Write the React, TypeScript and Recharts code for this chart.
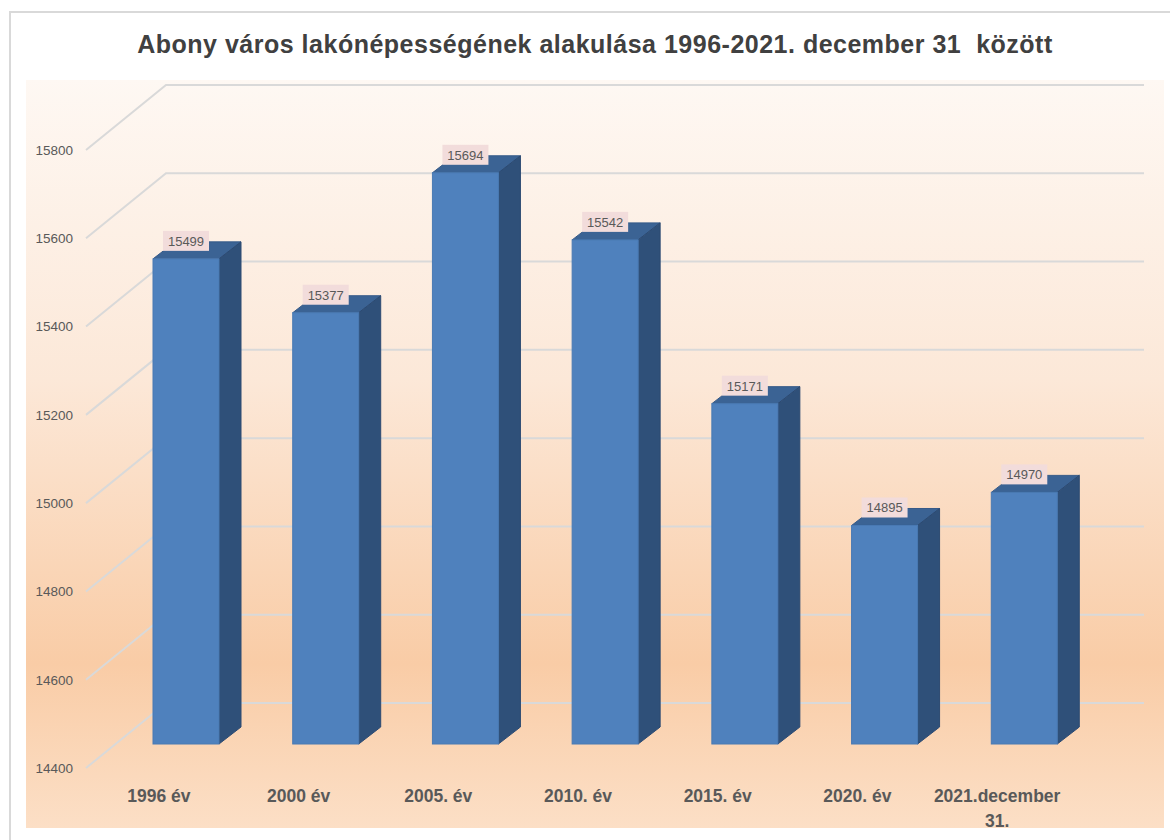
import { BarChart, Bar, XAxis, YAxis, CartesianGrid, LabelList } from 'recharts';

const years = ['1996 év', '2000 év', '2005. év', '2010. év', '2015. év', '2020. év', '2021.december 31.'];
const population = [15499, 15377, 15694, 15542, 15171, 14895, 14970];
const yTicks = [14400, 14600, 14800, 15000, 15200, 15400, 15600, 15800];

const data = years.map((year, i) => ({ year, population: population[i] }));

// 3D offsets: bar front plane, bar depth, back wall
const SHIFT_X = 30;
const SHIFT_Y = -24;
const DEPTH_X = 22;
const DEPTH_Y = -17;
const WALL_X = 80;
const WALL_Y = -65;

const GRID = '#d9d9d9';
const TEXT = '#595959';

function Box3D(props: any) {
  const { x, y, width, height } = props;
  const l = x + SHIFT_X;
  const r = l + width;
  const t = y + SHIFT_Y;
  const b = t + height;
  return (
    <g>
      <polygon
        points={`${l},${t} ${r},${t} ${r + DEPTH_X},${t + DEPTH_Y} ${l + DEPTH_X},${t + DEPTH_Y}`}
        fill="#3b6394"
        stroke="#365a88"
        strokeWidth={1}
      />
      <polygon
        points={`${r},${t} ${r + DEPTH_X},${t + DEPTH_Y} ${r + DEPTH_X},${b + DEPTH_Y} ${r},${b}`}
        fill="#2f5079"
        stroke="#2c4a72"
        strokeWidth={1}
      />
      <rect x={l} y={t} width={width} height={height} fill="#4f81bd" stroke="#4a7ab3" strokeWidth={1} />
    </g>
  );
}

function ValueBox(props: any) {
  const { x, y, width, value } = props;
  const cx = x + SHIFT_X + width / 2;
  const top = y + SHIFT_Y;
  return (
    <g>
      <rect x={cx - 23} y={top - 28} width={46} height={20} fill="#f2dcdb" />
      <text
        x={cx}
        y={top - 13}
        textAnchor="middle"
        fontSize={13}
        fill={TEXT}
        fontFamily="'Liberation Sans', Arial, sans-serif"
      >
        {value}
      </text>
    </g>
  );
}

function GridLine(props: any) {
  const { x1, x2, y1 } = props;
  return (
    <path
      d={`M${x1},${y1} L${x1 + WALL_X},${y1 + WALL_Y} L${x2 + WALL_X},${y1 + WALL_Y}`}
      fill="none"
      stroke={GRID}
      strokeWidth={2}
    />
  );
}

function YearTick(props: any) {
  const { x, y, payload } = props;
  const label: string = payload.value;
  const cut = label.length > 12 ? label.lastIndexOf(' ') : -1;
  const lines = cut > 0 ? [label.slice(0, cut), label.slice(cut + 1)] : [label];
  return (
    <text
      x={x + 3}
      y={y + 26}
      textAnchor="middle"
      fontSize={17.5}
      fontWeight="bold"
      fill={TEXT}
      fontFamily="'Liberation Sans', Arial, sans-serif"
    >
      {lines.map((ln, i) => (
        <tspan key={i} x={x + 3} dy={i === 0 ? 0 : 25}>
          {ln}
        </tspan>
      ))}
    </text>
  );
}

export default function App() {
  return (
    <div style={{ position: 'absolute', left: 0, top: 0, width: 1170, height: 840, background: '#fff', overflow: 'hidden' }}>
      <div
        style={{
          position: 'absolute',
          left: 9,
          top: 11,
          width: 1161,
          height: 829,
          borderTop: '2px solid #d9d9d9',
          borderLeft: '2px solid #d9d9d9',
        }}
      />
      <div
        style={{
          position: 'absolute',
          left: 26,
          top: 80,
          width: 1138,
          height: 748,
          background: 'linear-gradient(to bottom, #fef8f3 0%, #fce8d8 40%, #f9cca6 78%, #fcdfc6 100%)',
        }}
      />
      <div
        style={{
          position: 'absolute',
          left: 0,
          top: 30,
          width: 1190,
          textAlign: 'center',
          whiteSpace: 'pre',
          fontFamily: "'Liberation Sans', Arial, sans-serif",
          fontWeight: 'bold',
          fontSize: 25,
          letterSpacing: 0.5,
          color: '#404040',
        }}
      >
        Abony város lakónépességének alakulása 1996-2021. december 31  között
      </div>
      <div style={{ position: 'absolute', left: 0, top: 0 }}>
        <BarChart width={1170} height={840} data={data} margin={{ top: 150, right: 106, bottom: 12, left: 26 }}>
          <CartesianGrid vertical={false} horizontal={(p: any) => <GridLine key={p.key} {...p} />} />
          <XAxis dataKey="year" axisLine={false} tickLine={false} height={60} interval={0} tick={<YearTick />} />
          <YAxis
            domain={[14400, 15800]}
            ticks={yTicks}
            axisLine={false}
            tickLine={false}
            width={60}
            tick={{ fill: TEXT, fontSize: 13.5, fontFamily: "'Liberation Sans', Arial, sans-serif" }}
            tickMargin={7}
          />
          <Bar dataKey="population" barSize={66} shape={<Box3D />} isAnimationActive={false}>
            <LabelList dataKey="population" content={<ValueBox />} />
          </Bar>
        </BarChart>
      </div>
    </div>
  );
}
